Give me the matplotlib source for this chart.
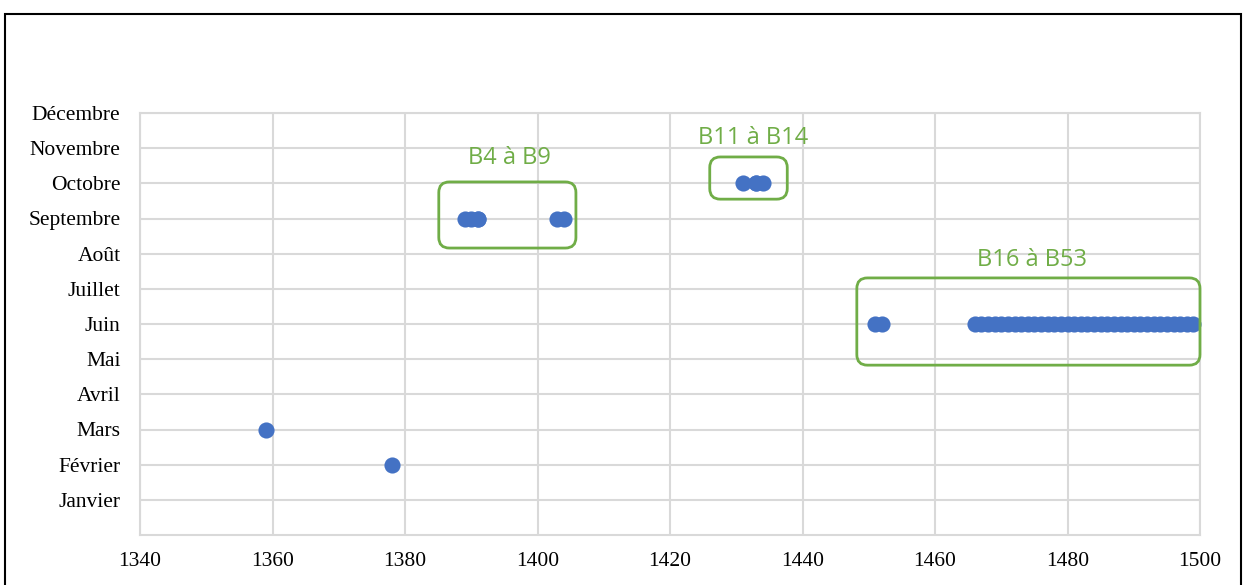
import matplotlib
matplotlib.use("Agg")
from matplotlib import pyplot as plt
from matplotlib.patches import FancyBboxPatch, Rectangle

# month labels (1 = Janvier ... 12 = Décembre)
mois = ["Janvier", "Février", "Mars", "Avril", "Mai", "Juin", "Juillet",
        "Août", "Septembre", "Octobre", "Novembre", "Décembre"]

# years and month number of each point
annees_isolees = [1359, 1378]
mois_isoles = [3, 2]

annees_b4_b9 = [1389, 1390, 1391, 1391, 1403, 1404]
mois_b4_b9 = [9] * len(annees_b4_b9)

annees_b11_b14 = [1431, 1433, 1433, 1434]
mois_b11_b14 = [10] * len(annees_b11_b14)

annees_b16_b53 = [1451, 1452, 1466, 1467, 1468, 1469, 1470, 1471, 1472, 1473,
                  1474, 1475, 1476, 1477, 1478, 1479, 1480, 1481, 1482, 1483,
                  1484, 1485, 1486, 1487, 1488, 1489, 1490, 1491, 1492, 1493,
                  1494, 1495, 1496, 1497, 1498, 1499]
mois_b16_b53 = [6] * len(annees_b16_b53)

groupes = ["B4 à B9", "B11 à B14", "B16 à B53"]

bleu = "#4472C4"
vert = "#70AD47"
gris = "#D9D9D9"

fig = plt.figure(figsize=(12.44, 5.85), dpi=100)
ax = fig.add_axes([140 / 1244, 1 - 535 / 585, 1060 / 1244, 422 / 585])

x = annees_isolees + annees_b4_b9 + annees_b11_b14 + annees_b16_b53
y = mois_isoles + mois_b4_b9 + mois_b11_b14 + mois_b16_b53
ax.scatter(x, y, s=135, color=bleu, zorder=3, clip_on=False, linewidths=0)

ax.set_xlim(1340, 1500)
ax.set_ylim(0, 12)
ax.set_xticks(range(1340, 1501, 20))
ax.set_yticks(range(1, 13))
ax.set_yticklabels(mois)
ax.grid(True, color=gris, linewidth=1.5, zorder=0)
ax.set_axisbelow(True)
for s in ax.spines.values():
    s.set_color(gris)
    s.set_linewidth(1.5)
ax.tick_params(length=0, labelsize=15.5)
ax.tick_params(axis="y", pad=14)
ax.tick_params(axis="x", pad=12)
for lab in ax.get_xticklabels() + ax.get_yticklabels():
    lab.set_fontfamily("Liberation Serif")

# green rounded boxes around the groups
asp = (1 / 35.17) / (1 / 6.625)
boites = [(1385.1, 8.16, 20.7, 1.88), (1426.0, 9.55, 11.7, 1.2), (1448.2, 4.83, 51.8, 2.48)]
textes = [(1395.8, 10.72), (1432.5, 11.29), (1474.6, 7.82)]
for (bx, by, bw, bh), (tx, ty), nom in zip(boites, textes, groupes):
    ax.add_patch(FancyBboxPatch((bx, by), bw, bh,
                                boxstyle="round,pad=0,rounding_size=1.6",
                                mutation_aspect=asp, fill=False,
                                edgecolor=vert, linewidth=2, clip_on=False, zorder=4))
    ax.text(tx, ty, nom, color=vert, fontsize=17, family="Open Sans",
            ha="center", va="center")

# outer frame of the original image
fig.patches.append(Rectangle((5 / 1244, -0.1), 1236 / 1244, 1.1 - 14 / 585,
                             transform=fig.transFigure, fill=False,
                             edgecolor="black", linewidth=1.5))

fig.savefig("out.png", dpi=100)
